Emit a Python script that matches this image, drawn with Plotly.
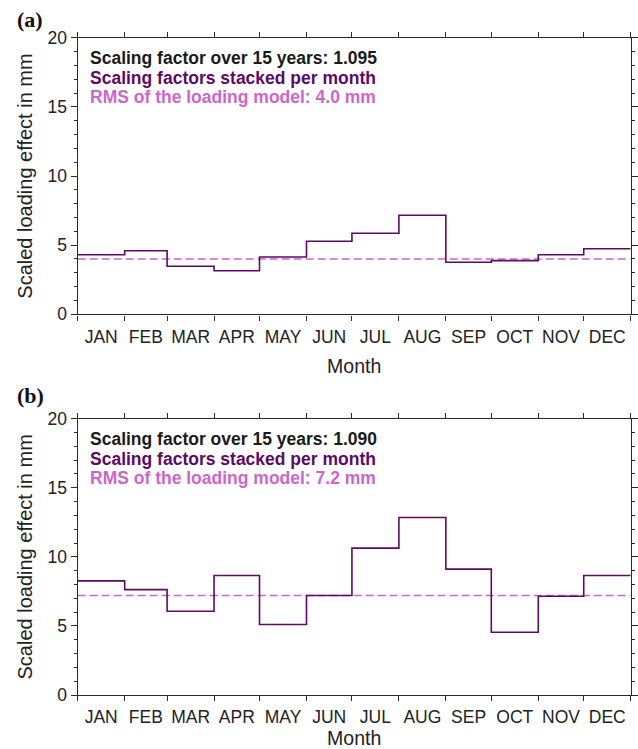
import numpy as np
import plotly.graph_objects as go

# ---------------- data ----------------
months = ["JAN", "FEB", "MAR", "APR", "MAY", "JUN", "JUL", "AUG", "SEP", "OCT", "NOV", "DEC"]
month_days = [31, 28, 31, 30, 31, 30, 31, 31, 30, 31, 30, 31]
loading_a = [4.31, 4.60, 3.47, 3.15, 4.14, 5.28, 5.86, 7.16, 3.76, 3.88, 4.31, 4.74]
loading_b = [8.26, 7.63, 6.06, 8.65, 5.10, 7.20, 10.63, 12.85, 9.11, 4.54, 7.15, 8.65]
rms_a = 4.0
rms_b = 7.2
factor_a = "1.095"
factor_b = "1.090"
y_ticks = [0, 5, 10, 15, 20]

# ---------------- derived positions ----------------
bounds = np.concatenate([[0], np.cumsum(month_days)]).tolist()
centers = [b + d / 2 for b, d in zip(bounds[:-1], month_days)]

DARK = "#5c0a66"
PINK = "#cc66cc"
AX = "#2a2a2a"
FONT = "Liberation Sans, Arial, Helvetica, sans-serif"

W, H = 638, 749
left, right = 77.7, 630.7
panels = [
    dict(top=37.7, bottom=314.3, vals=loading_a, rms=rms_a, fac=factor_a, tag="(a)", tagy=20),
    dict(top=418.7, bottom=695.0, vals=loading_b, rms=rms_b, fac=factor_b, tag="(b)", tagy=395),
]

fig = go.Figure()
annotations = []
for i, p in enumerate(panels, start=1):
    xa = "x" if i == 1 else f"x{i}"
    ya = "y" if i == 1 else f"y{i}"
    fig.add_trace(go.Scatter(
        x=[0, bounds[-1]], y=[p["rms"], p["rms"]], mode="lines",
        line=dict(color=PINK, width=1.5, dash="8px,4px"),
        xaxis=xa, yaxis=ya, hoverinfo="skip"))
    fig.add_trace(go.Scatter(
        x=bounds, y=list(p["vals"]) + [p["vals"][-1]], mode="lines",
        line=dict(color=DARK, width=1.6, shape="hv"),
        xaxis=xa, yaxis=ya))

    xkey = "xaxis" if i == 1 else f"xaxis{i}"
    ykey = "yaxis" if i == 1 else f"yaxis{i}"
    fig.layout[xkey] = dict(
        domain=[left / W, right / W], range=[0, bounds[-1]],
        anchor=ya,
        tickmode="array", tickvals=centers, ticktext=months, ticks="",
        ticklabelstandoff=6,
        tickfont=dict(family=FONT, size=17.5, color="#222"),
        showline=True, linecolor=AX, linewidth=1.4, mirror="ticks",
        showgrid=False, zeroline=False, automargin=False,
        minor=dict(tickmode="array", tickvals=bounds, ticks="outside", ticklen=5,
                   tickwidth=1.2, tickcolor=AX, showgrid=False),
        title=dict(text="Month", font=dict(family=FONT, size=19.5, color="#222"), standoff=13),
    )
    fig.layout[ykey] = dict(
        domain=[1 - p["bottom"] / H, 1 - p["top"] / H], range=[0, 20],
        anchor=xa,
        tickmode="array", tickvals=y_ticks, ticks="outside", ticklen=6, tickwidth=1.2,
        tickcolor=AX,
        tickfont=dict(family=FONT, size=17.5, color="#222"),
        showline=True, linecolor=AX, linewidth=1.4, mirror="ticks",
        showgrid=False, zeroline=False, automargin=False,
        minor=dict(dtick=1, ticks="outside", ticklen=3, tickwidth=1.0, tickcolor=AX, showgrid=False),
        title=dict(text="Scaled loading effect in mm", font=dict(family=FONT, size=20, color="#222"), standoff=9),
    )
    texts = [
        (f"Scaling factor over 15 years: {p['fac']}", "#1a1a1a", 0.9277),
        ("Scaling factors stacked per month", DARK, 0.8554),
        (f"RMS of the loading model: {p['rms']:.1f} mm", PINK, 0.7856),
    ]
    for t, c, yy in texts:
        annotations.append(dict(
            text=f"<b>{t}</b>", xref=f"{xa} domain", yref=f"{ya} domain",
            x=0.0186, y=yy, xanchor="left", yanchor="middle", showarrow=False,
            font=dict(family=FONT, size=17.5, color=c)))
    annotations.append(dict(
        text=f"<b>{p['tag']}</b>", xref="paper", yref="paper",
        x=30 / W, y=1 - p["tagy"] / H, xanchor="center", yanchor="middle", showarrow=False,
        font=dict(family="Liberation Serif, Times New Roman, serif", size=22, color="#111")))

fig.update_layout(
    template="none",
    width=W, height=H,
    margin=dict(l=0, r=0, t=0, b=0, pad=0),
    paper_bgcolor="white", plot_bgcolor="white",
    showlegend=False,
    annotations=annotations,
)

fig.write_html("out.html")
